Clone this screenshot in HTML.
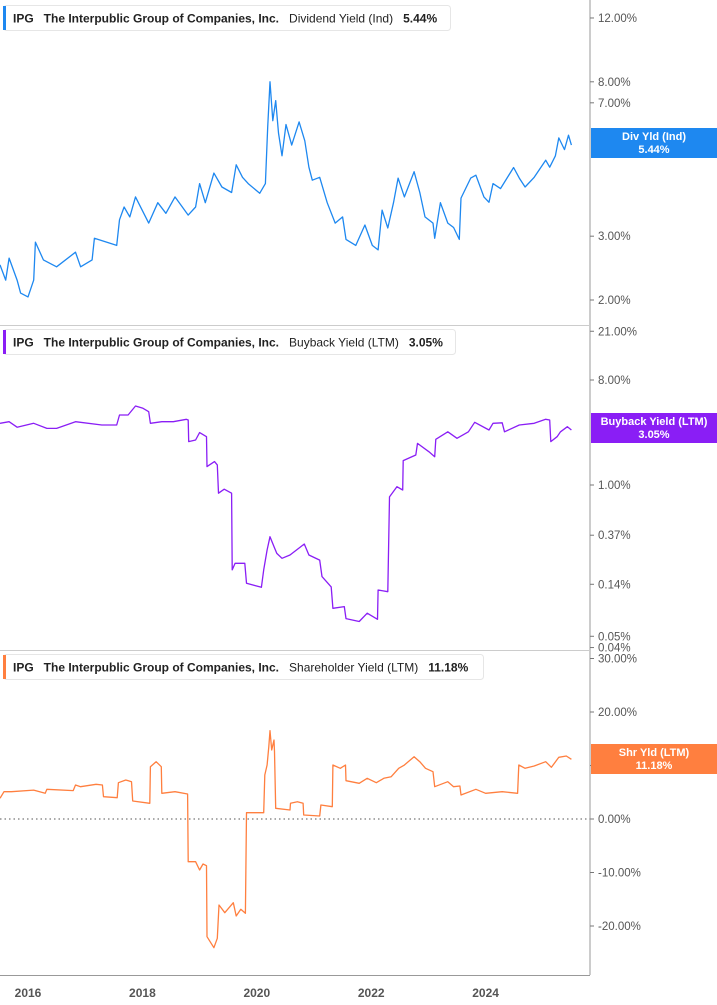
<!DOCTYPE html>
<html><head><meta charset="utf-8">
<style>
body{margin:0;background:#fff;font-family:"Liberation Sans",sans-serif;}
svg{display:block}
.tk{font-size:11.5px;fill:#555}
.xl{font-size:12px;fill:#555;font-weight:bold}
.hd{font-size:12px;font-weight:bold;fill:#222}
.hn{font-size:12px;fill:#222}
.bd{font-size:11px;font-weight:bold;fill:#fff}
</style></head>
<body>
<svg id="chart" width="717" height="1005" viewBox="0 0 717 1005" xmlns="http://www.w3.org/2000/svg"></svg>
<script>
// ---- data ----
const divYears=[2015.51,2015.61,2015.67,2015.81,2015.87,2016.00,2016.10,2016.13,2016.27,2016.50,2016.83,2016.92,2017.12,2017.16,2017.55,2017.60,2017.68,2017.78,2017.88,2018.11,2018.27,2018.41,2018.57,2018.80,2018.93,2019.00,2019.10,2019.25,2019.39,2019.56,2019.64,2019.75,2019.85,2020.05,2020.15,2020.19,2020.23,2020.28,2020.33,2020.38,2020.44,2020.51,2020.61,2020.74,2020.84,2020.91,2020.97,2021.10,2021.23,2021.37,2021.50,2021.56,2021.73,2021.89,2022.02,2022.12,2022.19,2022.29,2022.39,2022.47,2022.58,2022.75,2022.85,2022.94,2023.08,2023.11,2023.21,2023.34,2023.44,2023.54,2023.57,2023.74,2023.83,2023.97,2024.06,2024.13,2024.26,2024.49,2024.59,2024.69,2024.85,2025.05,2025.12,2025.22,2025.28,2025.38,2025.45,2025.50];
const divValues=[2.50,2.27,2.61,2.27,2.09,2.04,2.27,2.89,2.58,2.47,2.71,2.47,2.58,2.96,2.83,3.33,3.61,3.39,3.85,3.26,3.71,3.47,3.85,3.43,3.61,4.19,3.71,4.48,4.10,3.96,4.72,4.36,4.19,3.94,4.19,6.0,8.0,6.25,7.1,5.78,5.0,6.1,5.35,6.2,5.5,4.65,4.28,4.36,3.71,3.26,3.39,2.94,2.83,3.22,2.83,2.75,3.54,3.16,3.71,4.34,3.85,4.52,3.96,3.39,3.26,2.96,3.71,3.26,3.17,2.94,3.82,4.34,4.42,3.85,3.72,4.19,4.06,4.64,4.34,4.10,4.36,4.86,4.65,5.0,5.6,5.2,5.7,5.35];
const bbYears=[2015.51,2015.67,2015.81,2016.10,2016.33,2016.50,2016.83,2017.29,2017.55,2017.60,2017.75,2017.88,2018.01,2018.11,2018.14,2018.34,2018.54,2018.77,2018.80,2018.81,2018.93,2019.00,2019.12,2019.13,2019.26,2019.31,2019.33,2019.43,2019.56,2019.57,2019.62,2019.79,2019.82,2020.08,2020.12,2020.18,2020.23,2020.30,2020.35,2020.44,2020.58,2020.83,2020.91,2021.10,2021.14,2021.30,2021.33,2021.53,2021.56,2021.79,2021.93,2022.11,2022.12,2022.29,2022.32,2022.45,2022.55,2022.56,2022.78,2022.81,2023.01,2023.11,2023.13,2023.34,2023.50,2023.70,2023.81,2024.06,2024.13,2024.29,2024.33,2024.59,2024.85,2025.05,2025.12,2025.14,2025.25,2025.31,2025.43,2025.50];
const bbValues=[3.39,3.5,3.14,3.39,3.07,3.07,3.5,3.28,3.28,4.0,4.0,4.78,4.57,4.27,3.39,3.5,3.5,3.67,3.62,2.36,2.44,2.82,2.60,1.44,1.59,1.49,0.85,0.92,0.85,0.186,0.212,0.212,0.143,0.132,0.186,0.276,0.359,0.295,0.258,0.234,0.25,0.311,0.25,0.226,0.163,0.133,0.087,0.09,0.071,0.067,0.079,0.07,0.125,0.121,0.79,0.967,0.906,1.62,1.81,2.28,1.93,1.75,2.47,2.87,2.52,2.87,3.46,2.97,3.39,3.43,2.87,3.28,3.39,3.67,3.62,2.36,2.60,2.87,3.17,2.97];
const shYears=[2015.51,2015.58,2015.71,2016.10,2016.30,2016.33,2016.79,2016.83,2016.92,2017.19,2017.30,2017.32,2017.56,2017.58,2017.71,2017.81,2017.83,2018.13,2018.14,2018.24,2018.33,2018.34,2018.57,2018.79,2018.80,2018.93,2019.00,2019.06,2019.12,2019.13,2019.25,2019.31,2019.34,2019.44,2019.59,2019.64,2019.72,2019.80,2019.82,2020.12,2020.14,2020.18,2020.21,2020.23,2020.26,2020.30,2020.31,2020.33,2020.58,2020.59,2020.71,2020.81,2020.82,2021.10,2021.12,2021.32,2021.33,2021.46,2021.55,2021.56,2021.79,2021.93,2022.09,2022.22,2022.35,2022.48,2022.58,2022.75,2022.85,2022.95,2023.08,2023.11,2023.34,2023.44,2023.55,2023.57,2023.83,2024.00,2024.29,2024.56,2024.58,2024.69,2024.85,2025.05,2025.15,2025.28,2025.41,2025.50];
const shValues=[3.87,5.1,5.1,5.4,4.8,5.55,5.3,6.36,6.04,6.48,6.36,4.17,3.98,6.79,7.29,6.98,3.36,2.93,9.78,10.71,9.78,4.8,5.1,4.67,-7.98,-7.98,-9.53,-8.41,-8.72,-22.0,-24.05,-22.3,-16.07,-17.51,-15.64,-18.13,-16.88,-17.63,1.18,1.18,8.22,10.09,13.51,16.5,12.9,14.77,12.58,2.0,1.68,2.93,3.23,2.93,0.75,0.56,2.62,2.3,10.09,9.48,10.09,7.16,6.67,7.61,6.79,7.61,7.91,9.48,10.09,11.64,10.71,9.48,8.84,6.04,6.98,6.04,6.17,4.49,5.55,4.8,5.1,4.8,10.09,9.48,9.91,10.71,9.66,11.53,11.78,11.16];
const xTickYears=[2016,2018,2020,2022,2024];
const divTicks=[12,8,7,3,2];
const bbTicks=[21,8,1,0.37,0.14,0.05,0.04];
const shTicks=[30,20,10,0,-10,-20];

// ---- axes ----
const X=y=>28+(y-2016)*57.2;
const Ydiv=v=>300-Math.log(v/2)*157.4;
const Ybb=v=>485-Math.log(v)*50.5;
const Ysh=v=>819-v*5.35;

const svg=document.getElementById('chart');
const NS='http://www.w3.org/2000/svg';
function mk(tag,attrs,parent){const e=document.createElementNS(NS,tag);for(const k in attrs)e.setAttribute(k,attrs[k]);(parent||svg).appendChild(e);return e;}
function txt(s,attrs){const e=mk('text',attrs);e.textContent=s;return e;}

// frame lines
let l=mk('line',{x1:590,y1:0,x2:590,y2:975,stroke:'#999','stroke-width':1});


l=mk('line',{x1:0,y1:325.5,x2:590,y2:325.5,stroke:'#ccc','stroke-width':1});


l=mk('line',{x1:0,y1:650.5,x2:590,y2:650.5,stroke:'#ccc','stroke-width':1});


l=mk('line',{x1:0,y1:975.5,x2:590,y2:975.5,stroke:'#999','stroke-width':1});


l=mk('line',{x1:0,y1:Ysh(0),x2:590,y2:Ysh(0),stroke:'#555','stroke-width':1,'stroke-dasharray':'1.5,3'});



function fmt(v){return v.toFixed(2)+'%';}
function ticks(arr,Y,name){
  arr.forEach(v=>{
    const y=Y(v);
    const m=mk('line',{x1:590,y1:y,x2:594,y2:y,stroke:'#777'});
    
    
    const t=txt(fmt(v),{x:598,y:y+4,class:'tk'});
    
    
  });
}
ticks(divTicks,Ydiv,'div-yield-axis');
ticks(bbTicks,Ybb,'buyback-axis');
ticks(shTicks,Ysh,'shareholder-axis');

xTickYears.forEach(yr=>{
  const t=txt(String(yr),{x:X(yr),y:997,class:'xl','text-anchor':'middle'});
  
  
});

function series(xs,vs,Y,color,name){
  const d=xs.map((x,i)=>(i?'L':'M')+X(x).toFixed(1)+','+Y(vs[i]).toFixed(1)).join('');
  const p=mk('path',{d:d,fill:'none',stroke:color,'stroke-width':1.3,'stroke-linejoin':'round'});
  
  
}
series(divYears,divValues,Ydiv,'#1e88f0','dividend-yield-line');
series(bbYears,bbValues,Ybb,'#8a1ef5','buyback-yield-line');
series(shYears,shValues,Ysh,'#ff7f3f','shareholder-yield-line');

function header(y,label,val,color,name,w){
  const g=mk('g',{});
  
  
  mk('rect',{x:3.5,y:y+0.5,width:w,height:25,rx:3,fill:'#fff',stroke:'#e6e6e6'},g);
  mk('rect',{x:3,y:y+1,width:3,height:24,fill:color},g);
  const t=mk('text',{x:13,y:y+17.5,class:'hd'},g);
  t.innerHTML='IPG<tspan dx="10">The Interpublic Group of Companies, Inc.</tspan><tspan dx="10" font-weight="normal">'+label+'</tspan><tspan dx="10">'+val+'</tspan>';
}
header(5,'Dividend Yield (Ind)','5.44%','#1e88f0','dividend-yield-legend',447);
header(329,'Buyback Yield (LTM)','3.05%','#8a1ef5','buyback-yield-legend',452);
header(654,'Shareholder Yield (LTM)','11.18%','#ff7f3f','shareholder-yield-legend',480);

function badge(y,l1,l2,color,name){
  const g=mk('g',{});
  
  
  mk('rect',{x:591,y:y,width:126,height:30,fill:color},g);
  const a=mk('text',{x:654,y:y+12,class:'bd','text-anchor':'middle'},g);a.textContent=l1;
  const b=mk('text',{x:654,y:y+25,class:'bd','text-anchor':'middle'},g);b.textContent=l2;
}
badge(128,'Div Yld (Ind)','5.44%','#1e88f0','dividend-yield-badge');
badge(413,'Buyback Yield (LTM)','3.05%','#8a1ef5','buyback-yield-badge');
badge(744,'Shr Yld (LTM)','11.18%','#ff7f3f','shareholder-yield-badge');
</script>
</body></html>
